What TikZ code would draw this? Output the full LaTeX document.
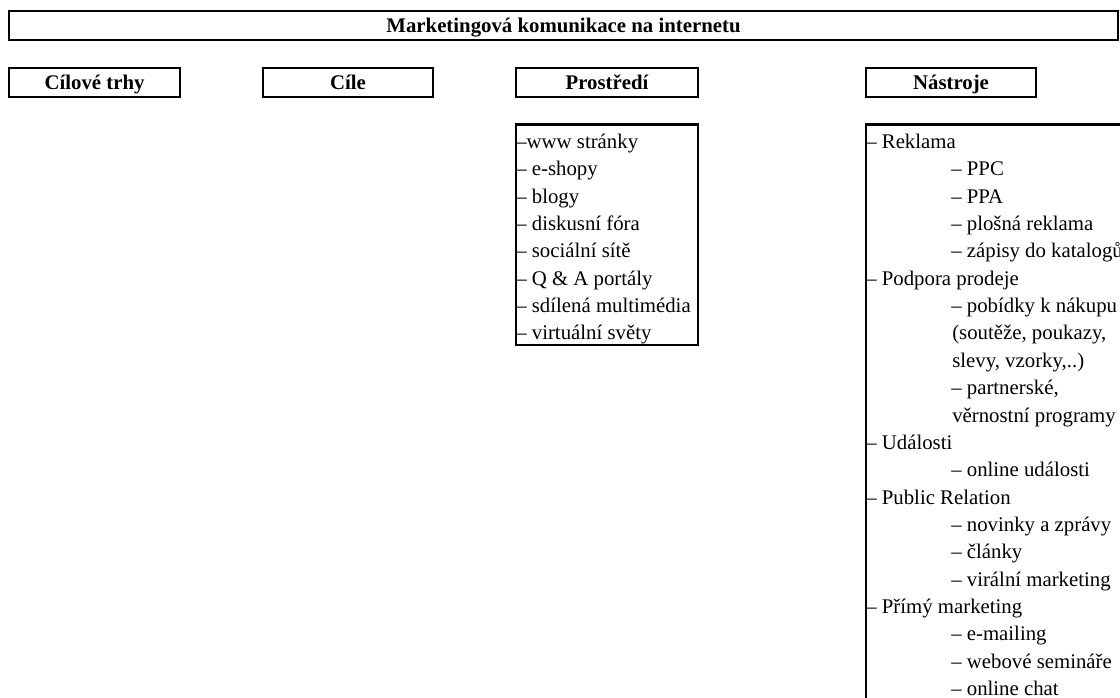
\documentclass[tikz,border=0pt]{standalone}
\usepackage{fontspec}
\setmainfont{Liberation Serif}
\begin{document}
\begin{tikzpicture}[x=0.75pt,y=-0.75pt,
  txt/.style={font=\fontsize{15.6pt}{20.5pt}\selectfont},
  hbox/.style={draw, line width=1.6pt, font=\fontsize{15.6pt}{20.5pt}\selectfont\bfseries,
    minimum height=21.75pt, text height=10.3pt, text depth=0pt, inner ysep=0pt, inner xsep=0pt},
  lbox/.style={draw, line width=1.6pt, inner sep=0pt},
  item/.style={txt, anchor=base west, inner sep=0pt}]
\useasboundingbox (0,0) rectangle (1120,698);
\clip (0,0) rectangle (1120,698);
% header boxes
\node[hbox, minimum width=831.75pt] (title) at (563.5,25.5) {Marketingová komunikace na internetu};
\node[hbox, minimum width=128.25pt] (trhy) at (94.5,82.5) {Cílové trhy};
\node[hbox, minimum width=127.5pt] (cile) at (348,82.5) {Cíle};
\node[hbox, minimum width=136.5pt] (prostredi) at (607,82.5) {Prostředí};
\node[hbox, minimum width=127.5pt] (nastroje) at (951,82.5) {Nástroje};
% list boxes
\node[lbox, minimum width=136.5pt, minimum height=165.4pt] (plist) at (607,234.75) {};
\node[lbox, minimum width=201.75pt, minimum height=443.6pt] (nlist) at (1000.5,420.25) {};
% Prostředí items
\node[item] (p1) at (516,148.5) {–www stránky};
\node[item] (p2) at (516,175.85) {– e-shopy};
\node[item] (p3) at (516,203.2) {– blogy};
\node[item] (p4) at (516,230.55) {– diskusní fóra};
\node[item] (p5) at (516,257.9) {– sociální sítě};
\node[item] (p6) at (516,285.25) {– Q \& A portály};
\node[item] (p7) at (516,312.6) {– sdílená multimédia};
\node[item] (p8) at (516,339.95) {– virtuální světy};
% Nástroje items
\node[item] (n1) at (866,148.5) {– Reklama};
\node[item] (n2) at (951,175.85) {– PPC};
\node[item] (n3) at (951,203.2) {– PPA};
\node[item] (n4) at (951,230.55) {– plošná reklama};
\node[item] (n5) at (951,257.9) {– zápisy do katalogů};
\node[item] (n6) at (866,285.25) {– Podpora prodeje};
\node[item] (n7) at (951,312.6) {– pobídky k nákupu};
\node[item] (n8) at (952,339.95) {(soutěže, poukazy,};
\node[item] (n9) at (952,367.3) {slevy, vzorky,..)};
\node[item] (n10) at (951,394.65) {– partnerské,};
\node[item] (n11) at (952,422) {věrnostní programy};
\node[item] (n12) at (866,449.35) {– Události};
\node[item] (n13) at (951,476.7) {– online události};
\node[item] (n14) at (866,504.05) {– Public Relation};
\node[item] (n15) at (951,531.4) {– novinky a zprávy};
\node[item] (n16) at (951,558.75) {– články};
\node[item] (n17) at (951,586.1) {– virální marketing};
\node[item] (n18) at (866,613.45) {– Přímý marketing};
\node[item] (n19) at (951,640.8) {– e-mailing};
\node[item] (n20) at (951,668.15) {– webové semináře};
\node[item] (n21) at (951,695.5) {– online chat};
\end{tikzpicture}
\end{document}
